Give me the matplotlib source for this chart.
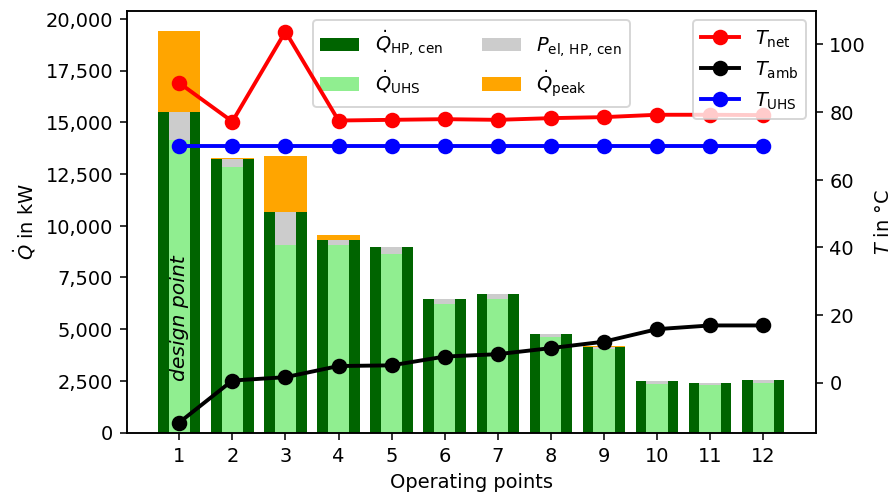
import matplotlib
matplotlib.use("Agg")
import matplotlib.pyplot as plt
import matplotlib.ticker as mticker
import numpy as np

# operating points of the heat pump system
points = np.arange(1, 13)
q_hp = [15500, 13250, 10680, 9320, 8980, 6470, 6710, 4780, 4160, 2500, 2400, 2550]
q_uhs = [14160, 12820, 9050, 9050, 8660, 6230, 6470, 4600, 4020, 2370, 2320, 2400]
p_el = [1340, 430, 1630, 270, 320, 240, 240, 180, 140, 130, 80, 150]
q_peak = [3930, 10, 2710, 240, 5, 10, 5, 10, 5, 10, 5, 10]

t_net = [88.6, 77.2, 103.8, 77.5, 77.7, 77.9, 77.7, 78.2, 78.5, 79.2, 79.2, 79.1]
t_amb = [-11.8, 0.6, 1.6, 4.9, 5.1, 7.7, 8.4, 10.2, 12.1, 15.8, 16.9, 16.9]
t_uhs = [70] * 12

fig, ax = plt.subplots(figsize=(6.4, 3.56), dpi=139.7)
fig.subplots_adjust(left=0.1417, right=0.9124, top=0.978, bottom=0.1294)

ax.bar(points, q_hp, width=0.8, color='darkgreen', label=r'$\dot{Q}_\mathrm{HP,\,cen}$')
ax.bar(points, q_peak, width=0.8, bottom=q_hp, color='orange', label=r'$\dot{Q}_\mathrm{peak}$')
ax.bar(points, q_uhs, width=0.4, color='lightgreen', label=r'$\dot{Q}_\mathrm{UHS}$')
ax.bar(points, p_el, width=0.4, bottom=q_uhs, color='#cccccc', label=r'$P_\mathrm{el,\,HP,\,cen}$')

ax.text(1, 2500, 'design point', rotation=90, style='italic', ha='center', va='bottom',
        fontsize=10.5)

ax.set_xlabel('Operating points')
ax.set_ylabel(r'$\dot{Q}$ in kW')
ax.set_xticks(points)
ax.yaxis.set_major_locator(mticker.MultipleLocator(2500))
ax.yaxis.set_major_formatter(mticker.StrMethodFormatter('{x:,.0f}'))

h, l = ax.get_legend_handles_labels()
order = [0, 2, 3, 1]
ax.legend([h[i] for i in order], [l[i] for i in order], ncol=2, loc='upper center')

ax2 = ax.twinx()
ax2.plot(points, t_net, 'o-', color='red', lw=2, ms=7, label=r'$T_\mathrm{net}$')
ax2.plot(points, t_amb, 'o-', color='black', lw=2, ms=7, label=r'$T_\mathrm{amb}$')
ax2.plot(points, t_uhs, 'o-', color='blue', lw=2, ms=7, label=r'$T_\mathrm{UHS}$')
ax2.set_ylim(-14.8, 110)
ax2.set_ylabel(r'$T$ in °C')
ax2.legend(loc='upper right')

fig.savefig('out.png')
